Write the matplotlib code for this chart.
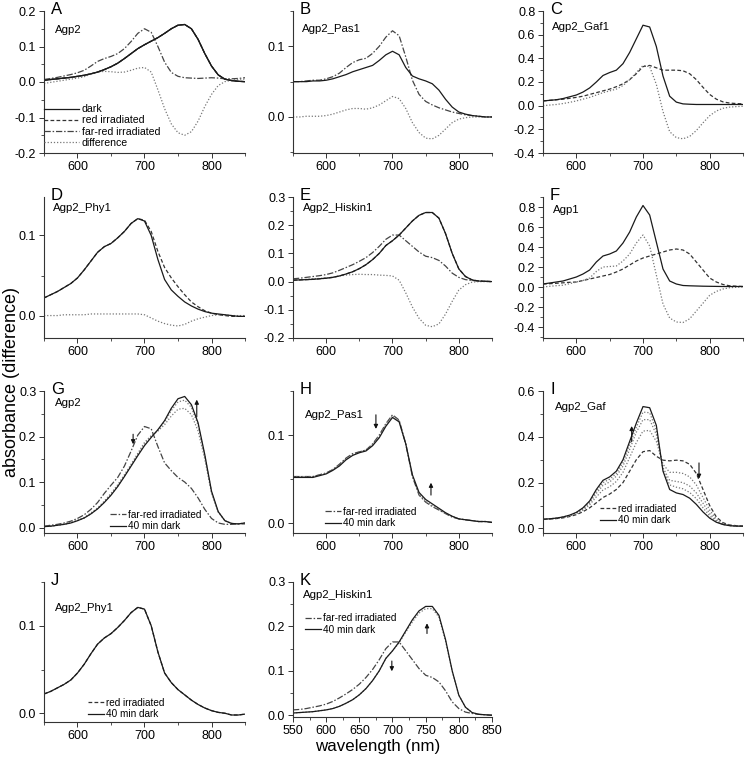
import numpy as np
import matplotlib
matplotlib.use('Agg')
import matplotlib.pyplot as plt
from matplotlib.ticker import MultipleLocator

plt.rcParams['font.family'] = ['Liberation Sans', 'DejaVu Sans']
plt.rcParams['axes.unicode_minus'] = False

# wavelength grid (nm), every 10 nm
wl = np.arange(550, 851, 10)

# A  Agp2
dark_A = [.005, .007, .009, .011, .013, .016, .019, .023, .028, .035, .043, .053, .066, .080, .094, .105,
          .115, .125, .137, .150, .160, .162, .150, .120, .080, .045, .020, .008, .004, .002, .001]
red_A = dark_A
farred_A = [.007, .010, .013, .017, .021, .026, .033, .045, .058, .066, .072, .080, .094, .114, .137, .150,
            .140, .100, .056, .027, .016, .012, .011, .010, .011, .012, .011, .009, .009, .010, .012]
diff_A = [-.004, -.001, .002, .005, .008, .011, .015, .022, .028, .030, .029, .027, .028, .033, .039, .041,
          .028, -.022, -.075, -.118, -.143, -.150, -.140, -.110, -.069, -.035, -.010, .001, .005, .008, .008]

# B  Agp2_Pas1
dark_B = [.050, .050, .050, .051, .051, .052, .054, .057, .060, .064, .067, .070, .073, .080, .088, .093,
          .088, .070, .058, .054, .051, .047, .038, .025, .014, .007, .004, .002, .001, .000, .000]
farred_B = [.050, .050, .051, .052, .052, .054, .057, .062, .070, .077, .081, .083, .090, .100, .113, .122,
            .115, .085, .052, .032, .022, .017, .013, .010, .007, .005, .003, .002, .001, .000, .000]
diff_B = [.000, .000, .001, .001, .001, .002, .004, .007, .010, .012, .012, .011, .013, .017, .023, .029,
          .026, .012, -.008, -.022, -.030, -.031, -.026, -.017, -.008, -.003, -.001, .000, .000, .000, .000]

# C  Agp2_Gaf1
dark_C = [.04, .045, .05, .06, .075, .09, .115, .15, .20, .255, .28, .30, .355, .45, .565, .68,
          .665, .50, .25, .08, .03, .015, .012, .01, .01, .01, .01, .01, .01, .01, .01]
red_C = [.04, .045, .05, .055, .062, .07, .08, .095, .11, .125, .14, .16, .185, .22, .27, .33,
         .34, .32, .30, .30, .30, .295, .27, .22, .155, .095, .055, .032, .022, .018, .015]
diff_C = [.00, .005, .01, .018, .028, .04, .055, .07, .09, .11, .125, .14, .17, .22, .28, .34,
          .33, .18, -.05, -.22, -.27, -.28, -.26, -.21, -.145, -.085, -.045, -.022, -.012, -.008, -.005]

# D  Agp2_Phy1
dark_D = [.022, .026, .030, .035, .040, .047, .057, .068, .079, .086, .090, .097, .105, .115, .121, .118,
          .100, .070, .045, .032, .024, .017, .012, .008, .005, .003, .002, .001, .000, -.001, -.001]
red_D = [.022, .026, .030, .035, .040, .047, .057, .068, .079, .086, .090, .097, .105, .115, .121, .119,
         .105, .080, .060, .047, .036, .026, .017, .011, .006, .003, .001, .000, -.001, -.001, -.001]
diff_D = [.000, .000, .000, .001, .001, .001, .001, .002, .002, .002, .002, .002, .002, .002, .002, .001,
          -.003, -.007, -.010, -.012, -.013, -.011, -.007, -.004, -.002, .000, .001, .001, .000, .000, .000]

# E  Agp2_Hiskin1
dark_E = [.005, .006, .007, .008, .010, .012, .015, .020, .027, .035, .046, .060, .078, .100, .128, .145,
          .165, .190, .215, .235, .245, .245, .225, .170, .100, .045, .018, .006, .002, .001, .000]
red_E = dark_E
farred_E = [.010, .012, .015, .018, .021, .025, .031, .040, .050, .060, .072, .085, .103, .125, .150, .165,
            .165, .145, .125, .105, .090, .085, .075, .055, .030, .015, .007, .004, .002, .001, .000]
diff_E = [.005, .006, .008, .010, .011, .013, .016, .020, .023, .025, .026, .025, .025, .023, .022, .020,
          .005, -.040, -.090, -.130, -.155, -.160, -.150, -.115, -.070, -.030, -.011, -.002, .000, .000, .000]

# F  Agp1
dark_F = [.03, .04, .05, .06, .08, .10, .13, .17, .25, .31, .33, .36, .44, .55, .70, .815,
          .72, .45, .18, .06, .03, .015, .012, .01, .008, .007, .006, .005, .005, .005, .005]
red_F = [.03, .033, .037, .042, .047, .05, .065, .08, .095, .11, .125, .15, .18, .22, .26, .29,
         .31, .33, .35, .37, .38, .37, .33, .25, .17, .09, .05, .025, .012, .008, .005]
diff_F = [.0, .007, .013, .018, .033, .05, .065, .09, .155, .20, .205, .21, .26, .33, .44, .52,
          .41, .12, -.17, -.31, -.35, -.355, -.318, -.24, -.162, -.083, -.044, -.02, -.007, -.003, .0]

# G  Agp2 kinetics
farred_G = [.003, .005, .007, .010, .014, .020, .028, .040, .055, .075, .093, .110, .135, .168, .203, .222,
            .217, .178, .142, .125, .110, .100, .086, .065, .040, .020, .010, .007, .007, .008, .008]
mid1_G = [.002, .003, .005, .008, .011, .016, .022, .032, .043, .058, .075, .094, .116, .139, .163, .187,
          .202, .212, .226, .245, .260, .262, .248, .212, .150, .076, .034, .015, .009, .008, .010]
mid2_G = [.002, .003, .005, .007, .010, .015, .021, .030, .042, .056, .072, .091, .113, .136, .160, .183,
          .200, .214, .232, .257, .276, .280, .264, .225, .157, .079, .035, .015, .009, .008, .010]
dark_G = [.002, .003, .005, .007, .010, .015, .021, .030, .041, .055, .071, .090, .112, .135, .158, .180,
          .198, .215, .235, .262, .283, .288, .270, .230, .160, .080, .035, .015, .009, .008, .010]

# H  Agp2_Pas1 kinetics
farred_H = [.053, .053, .053, .053, .055, .057, .061, .067, .074, .079, .081, .083, .090, .100, .113, .123,
            .117, .090, .053, .032, .024, .019, .015, .011, .007, .005, .004, .003, .002, .002, .001]
mid_H = [.053, .053, .053, .053, .055, .057, .061, .066, .073, .078, .081, .083, .089, .099, .112, .122,
         .116, .090, .054, .033, .025, .020, .016, .011, .008, .005, .004, .003, .002, .002, .001]
dark_H = [.052, .052, .052, .052, .054, .056, .060, .065, .072, .077, .080, .082, .088, .097, .110, .120,
          .115, .090, .055, .035, .027, .022, .017, .012, .008, .005, .004, .003, .002, .002, .001]

# I  Agp2_Gaf kinetics
red_I = [.040, .041, .043, .046, .052, .060, .073, .090, .112, .135, .150, .170, .200, .250, .300, .335,
         .340, .315, .298, .295, .298, .295, .280, .240, .170, .100, .050, .025, .015, .012, .010]
mid1_I = [.040, .041, .044, .048, .055, .065, .080, .103, .138, .168, .182, .205, .245, .310, .375, .425,
          .428, .380, .280, .245, .245, .240, .225, .190, .135, .080, .040, .020, .013, .011, .010]
mid2_I = [.040, .042, .044, .049, .056, .067, .085, .111, .153, .188, .203, .228, .272, .345, .420, .475,
          .475, .410, .265, .210, .205, .200, .185, .155, .110, .065, .034, .018, .013, .011, .010]
mid3_I = [.040, .042, .045, .050, .057, .069, .088, .116, .162, .200, .215, .240, .288, .365, .442, .508,
          .505, .430, .255, .190, .180, .173, .157, .130, .090, .055, .030, .017, .012, .010, .010]
dark_I = [.040, .042, .045, .050, .058, .070, .090, .120, .170, .210, .225, .250, .300, .380, .460, .532,
          .527, .450, .250, .170, .155, .148, .132, .105, .072, .045, .027, .017, .012, .010, .010]

# J  Agp2_Phy1 kinetics
red_J = [.022, .025, .029, .033, .038, .046, .056, .068, .079, .086, .091, .098, .106, .115, .121, .119,
         .100, .070, .046, .035, .027, .021, .015, .010, .006, .003, .001, .000, -.002, -.002, -.001]
dark_J = red_J

# K  Agp2_Hiskin1 kinetics
farred_K = [.012, .013, .015, .018, .021, .025, .031, .039, .048, .058, .070, .085, .103, .125, .150, .165,
            .165, .145, .125, .105, .090, .085, .075, .055, .030, .015, .007, .004, .002, .001, .000]
mid_K = [.005, .006, .007, .008, .010, .012, .015, .020, .027, .035, .046, .060, .078, .100, .128, .145,
         .163, .187, .210, .230, .240, .240, .221, .167, .099, .045, .018, .006, .002, .001, .000]
dark_K = [.005, .006, .007, .008, .010, .012, .015, .020, .027, .035, .046, .060, .078, .100, .128, .145,
          .165, .190, .215, .235, .245, .245, .225, .170, .100, .045, .018, .006, .002, .001, .000]

# line styles
SOLID = dict(color='#1a1a1a', lw=0.9, ls='-')
DASH = dict(color='#333333', lw=0.9, ls=(0, (3.0, 1.8)))
DASHDOT = dict(color='#444444', lw=0.9, ls=(0, (5, 1.5, 1.2, 1.5)))
DOT = dict(color='#777777', lw=0.9, ls=(0, (1, 1.5)))

fig = plt.figure(figsize=(7.45, 7.62), dpi=100)

cols = [(44, 201), (293, 199), (543, 200)]
rows = [(11, 153), (197, 338), (391, 533), (582, 722)]
W, H = 745, 762


def make_ax(r, c, bottom=None):
    x0, w = cols[c]
    t, b = rows[r]
    if bottom is not None:
        b = bottom
    ax = fig.add_axes([x0 / W, 1 - b / H, w / W, (b - t) / H])
    ax.spines['top'].set_visible(False)
    ax.spines['right'].set_visible(False)
    for s in ('left', 'bottom'):
        ax.spines[s].set_color('#333333')
        ax.spines[s].set_linewidth(0.8)
    ax.tick_params(which='major', direction='out', length=3.5, width=0.7, labelsize=9, pad=2,
                   color='#333333')
    ax.tick_params(which='minor', direction='out', length=2, width=0.6, color='#333333')
    ax.set_xlim(550, 850)
    ax.xaxis.set_minor_locator(MultipleLocator(50))
    ax.set_xticks([600, 700, 800])
    return ax


def finish(ax, letter, name, ylim, ystep, nx, ny):
    ax.set_ylim(*ylim)
    ax.yaxis.set_major_locator(MultipleLocator(ystep))
    ax.yaxis.set_minor_locator(MultipleLocator(ystep / 2))
    ax.yaxis.set_major_formatter(matplotlib.ticker.FormatStrFormatter('%.1f'))
    ax.text(0.035, 1.01, letter, transform=ax.transAxes, fontsize=12, va='center', ha='left')
    ax.text(nx, ny, name, transform=ax.transAxes, fontsize=8.2, va='center', ha='left')


def arrow(ax, x, y0, y1):
    ax.annotate('', xy=(x, y1), xytext=(x, y0),
                arrowprops=dict(arrowstyle='-|>', color='#111111', lw=0.8,
                                mutation_scale=6, shrinkA=0, shrinkB=0))


def small_legend(ax, x, y):
    ax.legend(loc='center left', bbox_to_anchor=(x, y), frameon=False, fontsize=7.2,
              handlelength=1.6, handletextpad=0.2, labelspacing=0.15, borderpad=0, borderaxespad=0)


# ---- A
ax = make_ax(0, 0)
ax.plot(wl, dark_A, label='dark', **SOLID)
ax.plot(wl, red_A, label='red irradiated', **DASH)
ax.plot(wl, farred_A, label='far-red irradiated', **DASHDOT)
ax.plot(wl, diff_A, label='difference', **DOT)
ax.plot(wl, dark_A, **SOLID)
finish(ax, 'A', 'Agp2', (-0.2, 0.2), 0.1, 0.055, 0.866)
ax.legend(loc='lower left', bbox_to_anchor=(0, 0.035), frameon=False, fontsize=7.6,
          handlelength=3.3, handletextpad=0.3, labelspacing=0.12, borderpad=0, borderaxespad=0)

# ---- B
ax = make_ax(0, 1)
ax.plot(wl, farred_B, **DASHDOT)
ax.plot(wl, diff_B, **DOT)
ax.plot(wl, dark_B, **SOLID)
finish(ax, 'B', 'Agp2_Pas1', (-0.051, 0.15), 0.1, 0.045, 0.873)

# ---- C
ax = make_ax(0, 2)
ax.plot(wl, red_C, **DASH)
ax.plot(wl, diff_C, **DOT)
ax.plot(wl, dark_C, **SOLID)
finish(ax, 'C', 'Agp2_Gaf1', (-0.4, 0.8), 0.2, 0.045, 0.887)

# ---- D
ax = make_ax(1, 0)
ax.plot(wl, red_D, **DASH)
ax.plot(wl, diff_D, **DOT)
ax.plot(wl, dark_D, **SOLID)
finish(ax, 'D', 'Agp2_Phy1', (-0.028, 0.148), 0.1, 0.045, 0.925)

# ---- E
ax = make_ax(1, 1)
ax.plot(wl, red_E, **DASH)
ax.plot(wl, farred_E, **DASHDOT)
ax.plot(wl, diff_E, **DOT)
ax.plot(wl, dark_E, **SOLID)
finish(ax, 'E', 'Agp2_Hiskin1', (-0.2, 0.3), 0.1, 0.05, 0.925)

# ---- F
ax = make_ax(1, 2)
ax.plot(wl, red_F, **DASH)
ax.plot(wl, diff_F, **DOT)
ax.plot(wl, dark_F, **SOLID)
finish(ax, 'F', 'Agp1', (-0.51, 0.9), 0.2, 0.05, 0.908)

# ---- G
ax = make_ax(2, 0)
ax.plot(wl, farred_G, label='far-red irradiated', **DASHDOT)
ax.plot(wl, mid1_G, **DOT)
ax.plot(wl, mid2_G, **DOT)
ax.plot(wl, dark_G, label='40 min dark', **SOLID)
finish(ax, 'G', 'Agp2', (-0.012, 0.3), 0.1, 0.055, 0.915)
arrow(ax, 683, 0.205, 0.183)
arrow(ax, 778, 0.243, 0.281)
small_legend(ax, 0.33, 0.088)

# ---- H
ax = make_ax(2, 1)
ax.plot(wl, farred_H, label='far-red irradiated', **DASHDOT)
ax.plot(wl, mid_H, **DOT)
ax.plot(wl, dark_H, label='40 min dark', **SOLID)
finish(ax, 'H', 'Agp2_Pas1', (-0.011, 0.15), 0.1, 0.06, 0.83)
arrow(ax, 675, 0.123, 0.107)
arrow(ax, 758, 0.032, 0.046)
small_legend(ax, 0.16, 0.109)

# ---- I
ax = make_ax(2, 2)
ax.plot(wl, red_I, label='red irradiated', **DASH)
ax.plot(wl, mid1_I, **DOT)
ax.plot(wl, mid2_I, **DOT)
ax.plot(wl, mid3_I, **DOT)
ax.plot(wl, dark_I, label='40 min dark', **SOLID)
finish(ax, 'I', 'Agp2_Gaf', (-0.02, 0.6), 0.2, 0.06, 0.887)
arrow(ax, 683, 0.379, 0.447)
arrow(ax, 784, 0.286, 0.217)
small_legend(ax, 0.285, 0.13)

# ---- J
ax = make_ax(3, 0)
ax.plot(wl, red_J, label='red irradiated', **DASH)
ax.plot(wl, dark_J, label='40 min dark', **SOLID)
finish(ax, 'J', 'Agp2_Phy1', (-0.01, 0.15), 0.1, 0.055, 0.814)
small_legend(ax, 0.22, 0.096)

# ---- K
ax = make_ax(3, 1, bottom=717)
ax.plot(wl, farred_K, label='far-red irradiated', **DASHDOT)
ax.plot(wl, mid_K, **DOT)
ax.plot(wl, dark_K, label='40 min dark', **SOLID)
finish(ax, 'K', 'Agp2_Hiskin1', (-0.004, 0.3), 0.1, 0.05, 0.907)
ax.set_xticks([550, 600, 650, 700, 750, 800, 850])
ax.xaxis.set_minor_locator(MultipleLocator(25))
arrow(ax, 699, 0.122, 0.099)
arrow(ax, 752, 0.184, 0.207)
small_legend(ax, 0.06, 0.69)

fig.text(0.0148, 1 - 382 / H, 'absorbance (difference)', rotation=90, fontsize=13,
         ha='center', va='center')
fig.text(378 / W, 1 - 746 / H, 'wavelength (nm)', fontsize=12.2, ha='center', va='center')

fig.savefig('out.png', dpi=100)
